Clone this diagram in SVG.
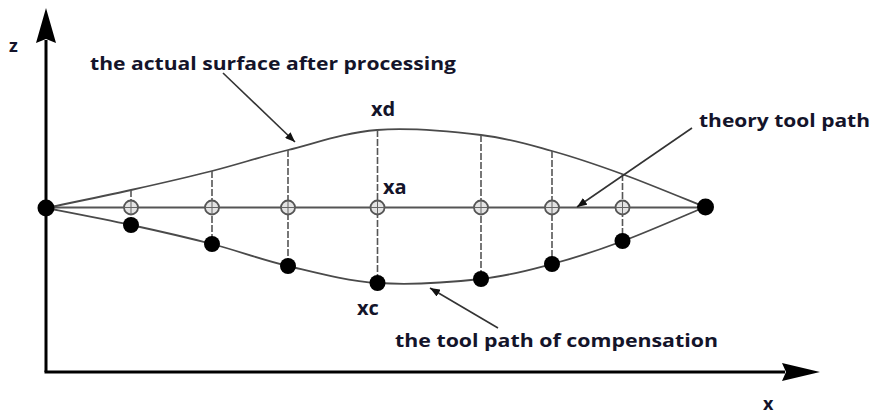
<svg xmlns="http://www.w3.org/2000/svg" width="874" height="414" viewBox="0 0 874 414">
<style>
.lbl{font-family:"Open Sans","Liberation Sans",sans-serif;font-weight:bold;font-size:18px;fill:#14142a}
.big{font-size:20px}
.ax{stroke:#000;stroke-width:3;fill:none}
.curve{stroke:#4a4a4a;stroke-width:1.8;fill:none}
.theory{stroke:#555;stroke-width:2;fill:none}
.dash{stroke:#555;stroke-width:1.6;stroke-dasharray:7 2;fill:none}
.lead{stroke:#333;stroke-width:1.6;fill:none}
.dot{fill:#000}
.cir{fill:#e4e4e4;stroke:#555;stroke-width:1.8}
.crs{stroke:#666;stroke-width:1}
</style>
<defs>
<marker id="ah" viewBox="0 0 10 8" refX="10" refY="4" markerWidth="10" markerHeight="8" markerUnits="userSpaceOnUse" orient="auto">
<path d="M0,0 L10,4 L0,8 Z" fill="#111"/>
</marker>
</defs>
<g id="axes">
<line class="ax" x1="46" y1="40" x2="46" y2="372"/>
<line class="ax" x1="44.5" y1="372" x2="785" y2="372"/>
<polygon points="46,8 56,43 46,39 36,43" fill="#000"/>
<polygon points="820,372 782,363 786,372 782,381" fill="#000"/>
<text class="lbl" x="9" y="52">z</text>
<text class="lbl" x="763" y="410">x</text>
</g>
<g id="connectors">
<line class="theory" x1="46" y1="207.5" x2="705" y2="207.5"/>
<path id="actual-surface" class="curve" d="M46,208 C60.2,205 103.3,196.2 131,190 C158.7,183.8 185.8,177.7 212,171 C238.2,164.3 260.5,156.8 288,150 C315.5,143.2 344.8,132.5 377,130 C409.2,127.5 451.8,131.5 481,135 C510.2,138.5 528.5,144.5 552,151 C575.5,157.5 596.5,164.7 622,174 C647.5,183.3 691.2,201.5 705,207"/>
<path id="compensation-path" class="curve" d="M46,208 C60.2,210.8 103.3,219 131,225 C158.7,231 185.8,237.2 212,244 C238.2,250.8 260.3,259.5 288,266 C315.7,272.5 345.8,280.8 378,283 C410.2,285.2 452,282.2 481,279 C510,275.8 528.3,270.3 552,264 C575.7,257.7 597.5,250.5 623,241 C648.5,231.5 691.3,212.7 705,207"/>
<line class="dash" x1="131" y1="190" x2="131" y2="225"/>
<line class="dash" x1="212" y1="171" x2="212" y2="244"/>
<line class="dash" x1="288" y1="150" x2="288" y2="266"/>
<line class="dash" x1="377.5" y1="130" x2="377.5" y2="283"/>
<line class="dash" x1="481" y1="135" x2="481" y2="279"/>
<line class="dash" x1="552" y1="151" x2="552" y2="264"/>
<line class="dash" x1="622.5" y1="174" x2="622.5" y2="241"/>
<line class="lead" x1="223" y1="73" x2="295" y2="142" marker-end="url(#ah)"/>
<line class="lead" x1="692" y1="128" x2="577" y2="207" marker-end="url(#ah)"/>
<line class="lead" x1="498" y1="328" x2="430" y2="288" marker-end="url(#ah)"/>
</g>
<g id="theory-points">
<g id="a1"><circle class="cir" cx="131" cy="207.5" r="7"/><path class="crs" d="M124,207.5h14M131,200.5v14"/></g>
<g id="a2"><circle class="cir" cx="212" cy="207.5" r="7"/><path class="crs" d="M205,207.5h14M212,200.5v14"/></g>
<g id="a3"><circle class="cir" cx="288" cy="207.5" r="7"/><path class="crs" d="M281,207.5h14M288,200.5v14"/></g>
<g id="a4"><circle class="cir" cx="377.5" cy="207.5" r="7"/><path class="crs" d="M370.5,207.5h14M377.5,200.5v14"/></g>
<g id="a5"><circle class="cir" cx="481" cy="207.5" r="7"/><path class="crs" d="M474,207.5h14M481,200.5v14"/></g>
<g id="a6"><circle class="cir" cx="552" cy="207.5" r="7"/><path class="crs" d="M545,207.5h14M552,200.5v14"/></g>
<g id="a7"><circle class="cir" cx="622.5" cy="207.5" r="7"/><path class="crs" d="M615.5,207.5h14M622.5,200.5v14"/></g>
</g>
<g id="compensation-points">
<circle id="start" class="dot" cx="46" cy="208" r="8.5"/>
<circle id="end" class="dot" cx="705.5" cy="207" r="8.5"/>
<circle id="c1" class="dot" cx="131" cy="225" r="8"/>
<circle id="c2" class="dot" cx="212" cy="244" r="8"/>
<circle id="c3" class="dot" cx="288" cy="266" r="8"/>
<circle id="c4" class="dot" cx="377.5" cy="283" r="8"/>
<circle id="c5" class="dot" cx="481" cy="279" r="8"/>
<circle id="c6" class="dot" cx="552" cy="264" r="8"/>
<circle id="c7" class="dot" cx="622.5" cy="241" r="8"/>
</g>
<g id="labels">
<text class="lbl" x="90" y="70" textLength="366" lengthAdjust="spacingAndGlyphs">the actual surface after processing</text>
<text class="lbl big" x="371" y="116">xd</text>
<text class="lbl big" x="383" y="194">xa</text>
<text class="lbl big" x="357" y="315">xc</text>
<text class="lbl" x="699" y="127" textLength="171" lengthAdjust="spacingAndGlyphs">theory tool path</text>
<text class="lbl" x="395" y="347" textLength="323" lengthAdjust="spacingAndGlyphs">the tool path of compensation</text>
</g>
</svg>
